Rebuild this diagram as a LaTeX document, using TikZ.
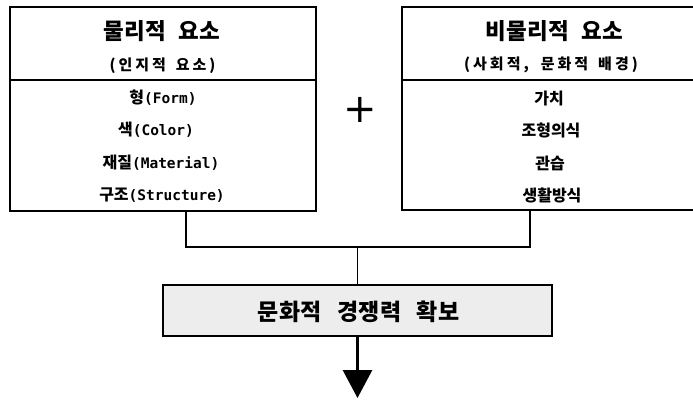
\documentclass[tikz,border=0pt]{standalone}
\usepackage{fontspec}
\setmainfont{Noto Sans CJK KR}
\newfontfamily\krt[LetterSpace=2]{Noto Sans CJK KR}
\newfontfamily\krs[LetterSpace=20]{Noto Sans CJK KR}
\newfontfamily\kri{Noto Sans CJK KR}
\newfontfamily\mono{DejaVu Sans Mono}
\newfontfamily\dejavu{DejaVu Sans}
\usetikzlibrary{arrows.meta}
\newcommand{\lat}[1]{{\mono\bfseries\fontsize{14.5}{17}\selectfont #1}}
\begin{document}
\begin{tikzpicture}[x=1pt,y=-1pt,
  boxst/.style={draw=black,line width=1.6pt,inner sep=0pt},
  titlest/.style={inner sep=0pt,font=\krt\bfseries\fontsize{22.5}{26}\selectfont},
  subst/.style={inner sep=0pt,font=\krs\bfseries\fontsize{15}{18}\selectfont},
  itemst/.style={inner sep=0pt,font=\kri\bfseries\fontsize{16}{19}\selectfont},
  conn/.style={draw=black,line width=1.4pt}]
\useasboundingbox (0,0) rectangle (693,399);
% left box
\node[boxst,minimum width=306pt,minimum height=204pt] (lbox) at (163,109) {};
\coordinate (ldiv) at (10,80);
\draw[line width=1.6pt] (ldiv) -- (ldiv -| lbox.east);
\node[titlest] (lt) at (162,31) {물리적\hspace{12pt}요소};
\node[subst] (ls) at (162.5,66) {(인지적\hspace{10pt}요소)};
\node[itemst] (l1) at (163,98) {형\lat{(Form)}};
\node[itemst] (l2) at (156,130) {색\lat{(Color)}};
\node[itemst] (l3) at (161,163) {재질\lat{(Material)}};
\node[itemst] (l4) at (162,195) {구조\lat{(Structure)}};
% right box (open to the right edge)
\node[boxst,minimum width=296pt,minimum height=203pt] (rbox) at (550,108.5) {};
\coordinate (rdiv) at (402,80);
\draw[line width=1.6pt] (rdiv) -- (rdiv -| rbox.east);
\node[titlest] (rt) at (554.5,31) {비물리적\hspace{12pt}요소};
\node[subst] (rs) at (551,65) {(사회적,\hspace{12pt}문화적\hspace{10pt}배경)};
\node[itemst] (r1) at (549,98) {가치};
\node[itemst] (r2) at (551,130) {조형의식};
\node[itemst] (r3) at (550,163) {관습};
\node[itemst] (r4) at (552,195) {생활방식};
% plus
\node[inner sep=0pt,font=\dejavu\fontsize{40}{40}\selectfont] (plus) at (360,110) {+};
% connectors
\coordinate (jl) at (186,247);
\coordinate (jr) at (530,247);
\node[boxst,line width=1.5pt,fill=black!7,minimum width=389pt,minimum height=51pt] (bbox) at (357.5,310.5) {};
\node[inner sep=0pt,font=\krt\bfseries\fontsize{23}{27}\selectfont] (bt) at (358.5,312) {문화적\hspace{15pt}경쟁력\hspace{15pt}확보};
\draw[conn] (lbox.south -| jl) |- (jr) -- (rbox.south -| jr);
\draw[conn] (bbox.north) -- (bbox.north |- jl);
\coordinate (tip) at (357.5,398);
\draw[line width=3pt,-{Triangle[width=29pt,length=28pt]}] (bbox.south) -- (tip);
\end{tikzpicture}
\end{document}
